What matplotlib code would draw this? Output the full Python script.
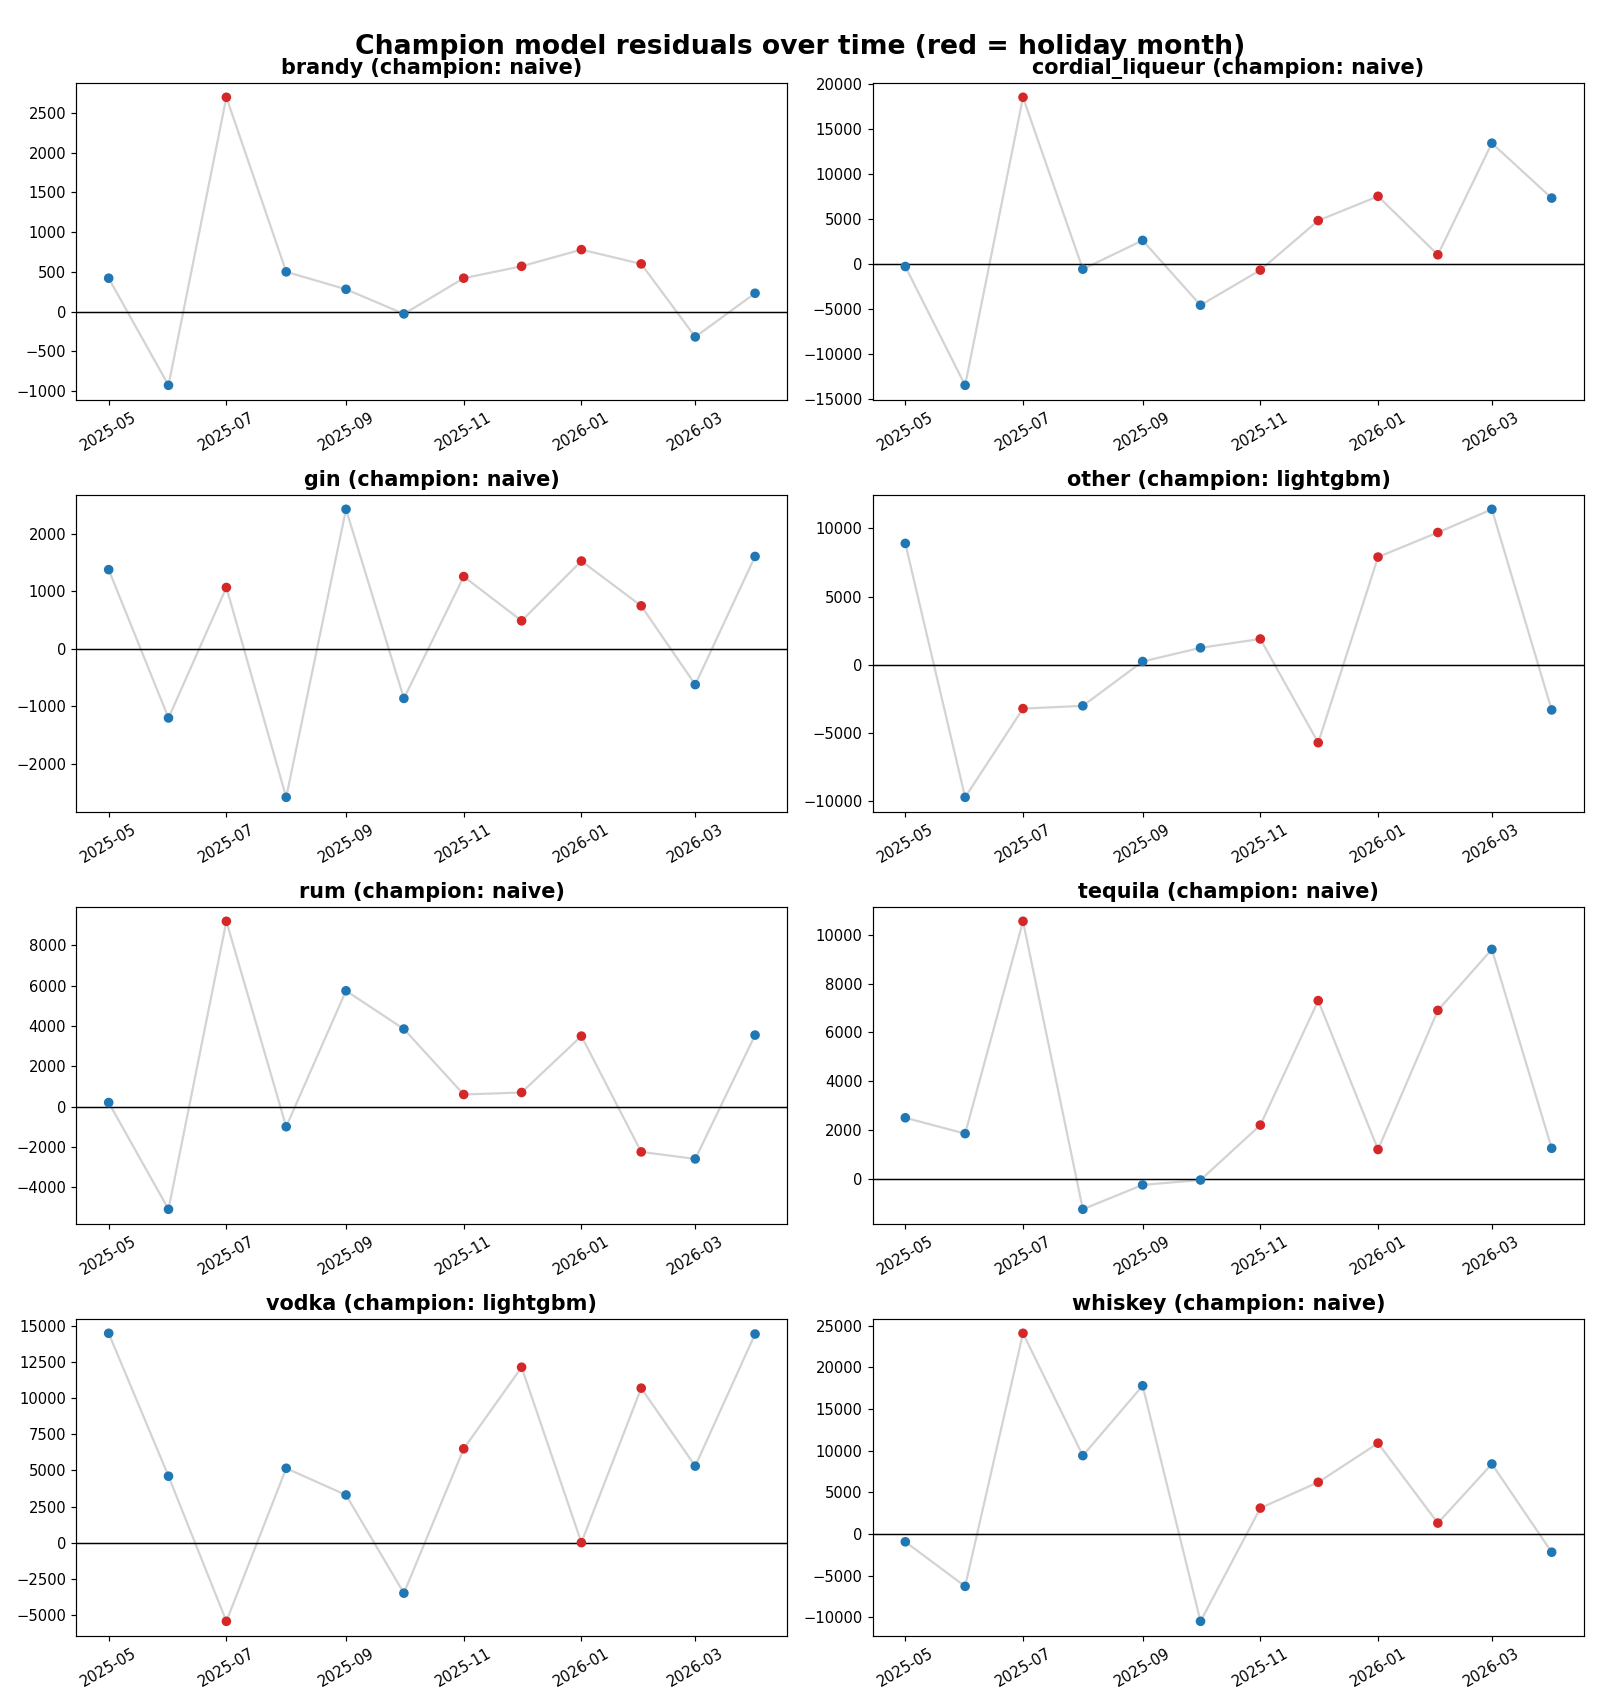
import matplotlib
matplotlib.use("Agg")
import matplotlib.pyplot as plt
import numpy as np
import pandas as pd

months = pd.date_range("2025-05-01", "2026-04-01", freq="MS")
holiday_months = [7, 11, 12, 1, 2]

categories = ["brandy", "cordial_liqueur", "gin", "other",
              "rum", "tequila", "vodka", "whiskey"]
champions = ["naive", "naive", "naive", "lightgbm",
             "naive", "naive", "lightgbm", "naive"]

brandy = [420, -930, 2700, 500, 280, -30, 420, 570, 780, 600, -320, 230]
cordial_liqueur = [-300, -13500, 18500, -600, 2600, -4600, -700, 4800, 7500, 1000, 13400, 7300]
gin = [1380, -1200, 1070, -2580, 2430, -860, 1260, 490, 1530, 750, -620, 1610]
other = [8900, -9700, -3200, -3000, 250, 1250, 1900, -5700, 7900, 9700, 11400, -3300]
rum = [200, -5100, 9200, -1000, 5750, 3850, 600, 700, 3500, -2250, -2600, 3550]
tequila = [2500, 1850, 10550, -1250, -250, -50, 2200, 7300, 1200, 6900, 9400, 1250]
vodka = [14500, 4600, -5450, 5150, 3300, -3500, 6500, 12150, 0, 10700, 5300, 14450]
whiskey = [-950, -6300, 24100, 9400, 17800, -10500, 3100, 6200, 10900, 1300, 8400, -2200]

residuals = [brandy, cordial_liqueur, gin, other, rum, tequila, vodka, whiskey]

dpi = 1600 / 15
fig, axes = plt.subplots(4, 2, figsize=(15, 1706 / dpi), dpi=dpi)
is_holiday = np.isin(months.month, holiday_months)
colors = np.where(is_holiday, "tab:red", "tab:blue")

for ax, cat, champ, vals in zip(axes.flat, categories, champions, residuals):
    ax.plot(months, vals, color="lightgray", linewidth=1.5, zorder=1)
    ax.scatter(months, vals, c=colors, s=30, zorder=3)
    ax.axhline(0, color="black", linewidth=1)
    ax.set_title(f"{cat} (champion: {champ})", fontsize=14, fontweight="bold")
    ax.tick_params(axis="x", rotation=30)

fig.suptitle("Champion model residuals over time (red = holiday month)",
             fontsize=18, fontweight="bold")
plt.tight_layout()
plt.savefig("out.png", dpi=dpi)
